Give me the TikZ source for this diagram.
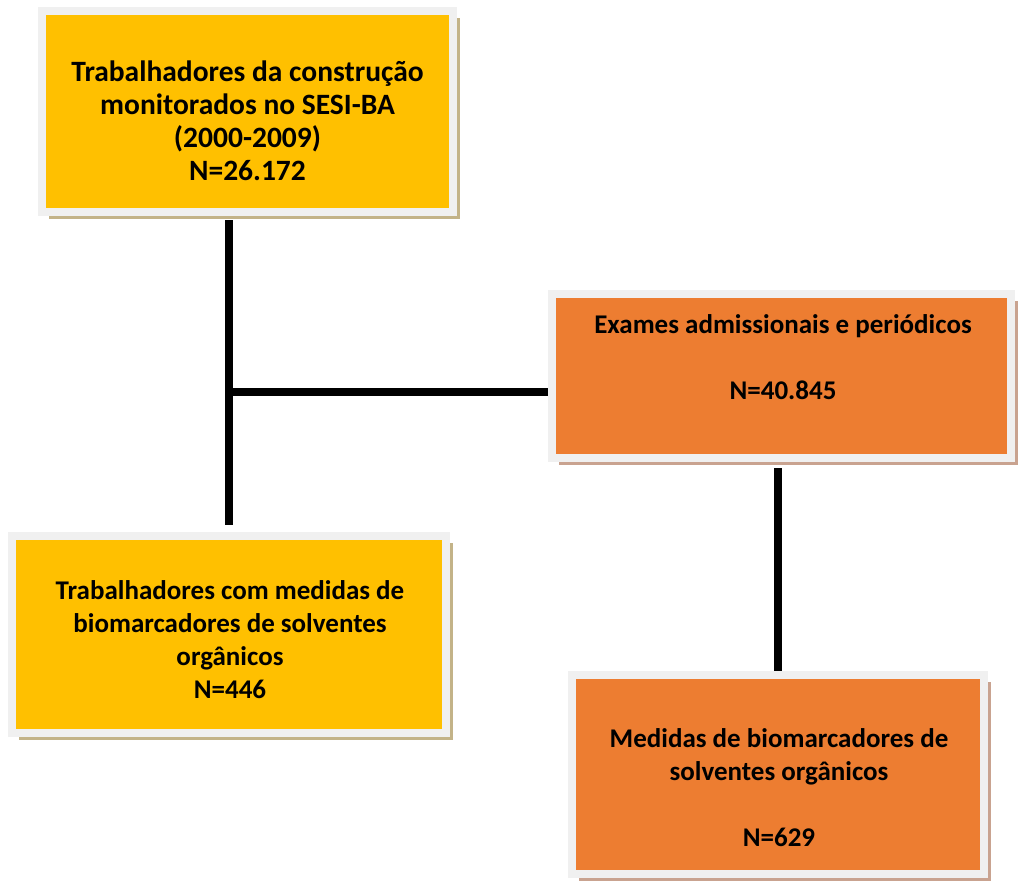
\documentclass[tikz,border=0pt]{standalone}
\usepackage{fontspec}
\setmainfont{Carlito}
\usetikzlibrary{shadows}
\definecolor{boxyellow}{HTML}{FFC000}
\definecolor{boxorange}{HTML}{ED7D31}
\definecolor{framegray}{HTML}{F0F0F0}
\definecolor{shadowtan}{HTML}{C3B388}
\definecolor{shadowrose}{HTML}{C9A390}
\begin{document}
\begin{tikzpicture}[x=1pt,y=1pt,
  boxbase/.style={draw=framegray, line width=8pt, rectangle},
  ybox/.style={boxbase, fill=boxyellow,
    drop shadow={shadow xshift=7pt, shadow yshift=-7pt, fill=shadowtan, opacity=1}},
  obox/.style={boxbase, fill=boxorange,
    drop shadow={shadow xshift=7pt, shadow yshift=-7pt, fill=shadowrose, opacity=1}},
  lbl/.style={font=\bfseries\fontsize{27}{33}\selectfont, align=center, text=black, inner sep=0pt},
  biglbl/.style={lbl, font=\bfseries\fontsize{29.5}{33}\selectfont},
  link/.style={line width=8pt, black}]
\useasboundingbox (0,0) rectangle (1020,-884);
% boxes
\node[ybox, minimum width=411pt, minimum height=201pt] (b1) at (247.5,-111.5) {};
\node[obox, minimum width=459pt, minimum height=164pt] (b2) at (781.5,-376) {};
\node[ybox, minimum width=434pt, minimum height=197pt] (b3) at (229,-634.5) {};
\node[obox, minimum width=412pt, minimum height=199pt] (b4) at (778,-774.5) {};
% texts
\node[biglbl] (t1) at (247.5,-121) {Trabalhadores da construção\\monitorados no SESI-BA\\(2000-2009)\\N=26.172};
\node[lbl] (t2) at (783,-357.5) {Exames admissionais e periódicos\\[33pt]N=40.845};
\node[lbl] (t3) at (230,-640) {Trabalhadores com medidas de\\biomarcadores de solventes\\orgânicos\\N=446};
\node[lbl] (t4) at (779,-787.5) {Medidas de biomarcadores de\\solventes orgânicos\\[33pt]N=629};
% connectors
\coordinate (j) at (b3.north |- 0,-392);
\draw[link] ([yshift=-4pt]b1.south -| b3.north) -- ([yshift=7pt]b3.north);
\draw[link] ([xshift=-4pt]j) -- (j -| b2.west);
\draw[link] ([yshift=-6pt]b2.south -| b4.north) -- (b4.north);
\end{tikzpicture}
\end{document}
